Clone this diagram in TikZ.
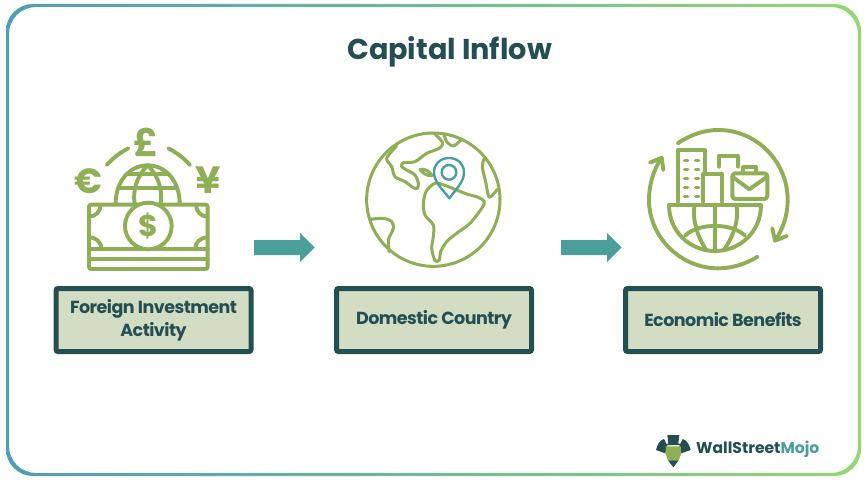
\documentclass[tikz,border=0pt]{standalone}
\usepackage{fontspec}
\setmainfont{Poppins}
\newfontfamily\tightfont[LetterSpace=-3]{Poppins}
\definecolor{dark}{HTML}{234F52}
\definecolor{leaf}{HTML}{8FAF55}
\definecolor{sea}{HTML}{4A9F9D}
\definecolor{pale}{HTML}{D3DDC4}
\definecolor{pinc}{HTML}{4A9FA5}
\definecolor{edgea}{HTML}{4A9FB8}
\definecolor{edgeb}{HTML}{93DA70}
\newcommand{\lowered}[1]{\raisebox{-1.5pt}{#1}}
\tikzset{
  labelbox/.style={draw=dark,fill=pale,line width=5pt,rounded corners=2pt,minimum width=195pt,minimum height=63pt,
    align=center,text=dark,font=\tightfont\fontsize{17.5}{23}\selectfont\bfseries,inner sep=0pt},
  blockarrow/.style={fill=sea,draw=none},
  ink/.style={draw=leaf,line width=3.9pt,line cap=round,line join=round},
  thin ink/.style={draw=leaf,line width=3pt,line cap=round,line join=round},
  glyph/.style={text=leaf,inner sep=0pt},
}
\begin{document}
\begin{tikzpicture}[x=1pt,y=-1pt]
\useasboundingbox (0,0) rectangle (868,484);
\fill[white] (0,0) rectangle (868,484);
% frame with a gradient
\begin{scope}[even odd rule,rounded corners=27pt]
\clip (6,4) rectangle (861,476) (9,7) rectangle (858,473);
\shade[left color=edgea,right color=edgeb,sharp corners] (0,0) rectangle (868,484);
\end{scope}
\node[text=dark,font=\fontsize{28.7}{32}\selectfont\bfseries,inner sep=0pt] (title) at (449.5,52) {Capital Inflow};
% boxes
\node[labelbox] (box1) at (153.5,320) {\lowered{Foreign Investment}\\\lowered{Activity}};
\node[labelbox] (box2) at (434,320) {\lowered{Domestic Country}};
\node[labelbox] (box3) at (723,320) {\lowered{Economic Benefits}};
% arrows
\fill[blockarrow] (254,240) -- (300,240) -- (300,233) -- (314.5,247.5) -- (300,262) -- (300,255) -- (254,255) -- cycle;
\fill[blockarrow] (561,240) -- (607,240) -- (607,233) -- (621.5,247.5) -- (607,262) -- (607,255) -- (561,255) -- cycle;
% icon 1
\begin{scope}[shift={(60,120)},scale=1/3]
\draw[ink] (167,250) .. controls (167,185) and (208,136) .. (263,136) .. controls (318,136) and (359,185) .. (359,250);
\draw[ink] (205,163) -- (321,163);
\draw[ink] (176,205) -- (350,205);
\draw[ink] (263,136) .. controls (228,170) and (218,215) .. (224,250);
\draw[ink] (263,136) .. controls (298,170) and (308,215) .. (302,250);
\draw[ink,rounded corners=2pt] (87,254) rectangle (443,447);
\draw[ink] (87,388) -- (443,388) (87,417) -- (443,417);
\draw[ink] (122,254) .. controls (122,274) and (107,290) .. (87,290);
\draw[ink] (408,254) .. controls (408,274) and (423,290) .. (443,290);
\draw[ink] (87,352) .. controls (109,352) and (125,368) .. (125,388);
\draw[ink] (443,352) .. controls (421,352) and (405,368) .. (405,388);
\draw[ink,fill=white] (265,318) circle[radius=70];
\draw[ink] (140,135) .. controls (160,113) and (180,98) .. (205,85);
\draw[ink] (325,85) .. controls (350,98) and (370,113) .. (390,135);
\node[glyph,font=\fontsize{30}{30}\selectfont\bfseries] (dollar) at (265,318) {\$};
\node[glyph,font=\fontsize{38}{38}\selectfont\bfseries] (pound) at (258,67) {£};
\node[glyph,font=\fontsize{35}{35}\selectfont\bfseries] (euro) at (85,183) {€};
\node[glyph,font=\fontsize{38}{38}\selectfont\bfseries] (yen) at (445,180) {¥};
\end{scope}
% icon 2
\begin{scope}[shift={(350,120)},scale=1/3]
\draw[thin ink] (250,239) circle[radius=200];
\draw[thin ink,smooth] plot coordinates {(140,78) (110,115) (125,140) (135,170) (165,185) (190,203) (202,205) (205,190) (195,165) (170,150) (155,140) (160,128) (195,125) (230,100) (268,85) (278,68) (255,42)};
\draw[thin ink,smooth] plot coordinates {(283,45) (290,65) (310,78) (333,60)};
\draw[thin ink] (210,148) .. controls (225,145) and (240,155) .. (246,167) .. controls (230,168) and (218,160) .. (210,148) -- cycle;
\draw[thin ink,smooth cycle] plot coordinates {(250,192) (228,215) (220,250) (225,285) (250,315) (250,350) (245,385) (255,422) (268,420) (272,395) (290,365) (320,340) (360,310) (395,265) (403,245) (385,232) (350,222) (320,210) (295,200) (265,190)};
\draw[thin ink,smooth] plot coordinates {(403,115) (397,140) (408,190) (418,232) (442,208)};
\draw[thin ink,smooth] plot coordinates {(62,298) (100,295) (125,305) (130,325) (115,360) (118,395)};
\draw[draw=pinc,line width=2.4pt,line join=round] (298,235) .. controls (275,205) and (252,185) .. (252,157) .. controls (252,132) and (272,114) .. (297,114) .. controls (322,114) and (342,132) .. (342,157) .. controls (342,185) and (320,205) .. (298,235) -- cycle;
\draw[draw=pinc,line width=2.4pt] (297,157) circle[radius=22];
\end{scope}
% icon 3
\begin{scope}[shift={(635,120)},scale=1/3]
\draw[ink] (128,70) .. controls (170,42) and (210,30) .. (250,30) .. controls (365,30) and (458,125) .. (458,240) .. controls (458,285) and (445,325) .. (420,362);
\draw[ink] (412,325) -- (420,362) -- (455,348);
\draw[ink] (368,410) .. controls (330,433) and (290,445) .. (250,445) .. controls (135,445) and (42,350) .. (42,240) .. controls (42,195) and (55,150) .. (80,113);
\draw[ink] (45,128) -- (80,113) -- (85,150);
\draw[ink] (128,245) -- (128,90) -- (210,90) -- (210,160);
\draw[ink] (205,245) -- (205,162) -- (262,162) -- (262,245);
\draw[ink] (252,140) -- (252,108) -- (308,108) -- (308,140);
\draw[ink,rounded corners=3pt] (292,160) rectangle (397,237);
\draw[ink] (325,158) -- (325,142) -- (362,142) -- (362,158);
\draw[ink] (292,170) -- (343,208) -- (397,170);
\draw[ink] (102,255) -- (378,255);
\draw[ink] (102,255) .. controls (102,335) and (165,393) .. (240,393) .. controls (315,393) and (378,335) .. (378,255);
\draw[ink] (178,258) .. controls (172,305) and (190,355) .. (215,392);
\draw[ink] (305,258) .. controls (312,305) and (292,355) .. (265,392);
\draw[ink] (240,258) -- (240,393);
\draw[ink] (150,347) .. controls (190,308) and (290,308) .. (330,347);
\foreach \wy in {122,148,175,202,230} {
  \draw[leaf,line width=3.6pt,line cap=round] (149,\wy) -- (158,\wy);
  \draw[leaf,line width=3.6pt,line cap=round] (182,\wy) -- (191,\wy);
}
\end{scope}
% logo
\begin{scope}[shift={(640,425)},scale=1/3]
\fill[dark] (82,30) -- (118,30) -- (115,55) -- (126,60) -- (76,60) -- (85,55) -- cycle;
\fill[dark] (48,75) .. controls (52,58) and (60,45) .. (72,42) -- (82,62) -- (76,85) -- cycle;
\fill[dark] (152,75) .. controls (148,58) and (140,45) .. (128,42) -- (118,62) -- (124,85) -- cycle;
\fill[leaf] (78,64) -- (122,64) -- (124,85) -- (116,106) -- (84,106) -- (76,85) -- cycle;
\fill[dark] (84,106) -- (116,106) -- (100,127) -- cycle;
\end{scope}
\node[anchor=west,inner sep=0pt,font=\fontsize{15.6}{18}\selectfont\bfseries] (brand) at (696,449.5) {\textcolor{dark}{WallStreet}\textcolor{sea}{Mojo}};
\end{tikzpicture}
\end{document}
